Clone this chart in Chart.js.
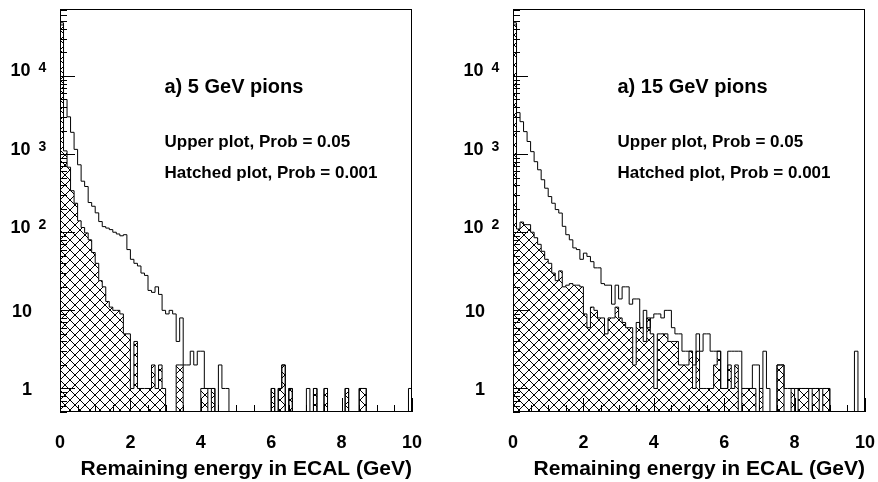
<!DOCTYPE html>
<html>
<head>
<meta charset="utf-8">
<script src="https://cdn.jsdelivr.net/npm/chart.js@4.4.1/dist/chart.umd.min.js"></script>
<style>
  html, body { margin: 0; padding: 0; background: #fff; }
  #wrap { position: relative; width: 878px; height: 482px; overflow: hidden; background: #fff; }
  #wrap canvas { position: absolute; top: 0; }
</style>
</head>
<body>
<div id="wrap">
  <canvas id="c5" width="439" height="482" style="left:0"></canvas>
  <canvas id="c15" width="439" height="482" style="left:439px"></canvas>
</div>
<script>
// Histogram binning: 100 bins of 0.1 GeV from 0 to 10 GeV
const xMin = 0, xMax = 10, binWidth = 0.1;
const binLow = Array.from({ length: 100 }, (_, i) => +(i * binWidth).toFixed(1));

// Axis ticks and labels
const xTickValues = [0, 2, 4, 6, 8, 10];
const xTickLabels = ['0', '2', '4', '6', '8', '10'];
const yDecades = [1, 10, 100, 1000, 10000];
const yTickLabels = [['1', ''], ['10', ''], ['10', '2'], ['10', '3'], ['10', '4']];
const xTitle = 'Remaining energy in ECAL (GeV)';

// 5 GeV pions: entries per bin
const pion5Upper = [
  48000, 5000, 3000, 1900, 1150, 730, 450, 385, 240, 215,
  177, 137, 118, 113, 108, 100, 95, 90, 93, 60,
  45, 40, 37, 30, 28, 18, 17, 20, 16, 10,
  9, 10, 9, 4, 8, 2, 2, 3, 2, 3,
  3, 1, 1, 1, 0, 2, 1, 1, 0, 0,
  0, 0, 0, 0, 0, 0, 0, 0, 0, 0,
  1, 0, 1, 2, 0, 1, 0, 0, 0, 0,
  1, 0, 1, 0, 0, 1, 0, 0, 0, 0,
  0, 1, 0, 0, 0, 1, 1, 0, 0, 0,
  0, 0, 0, 0, 0, 0, 0, 0, 0, 1
];
const pion5Hatched = [
  45000, 1100, 680, 340, 235, 140, 115, 98, 80, 55,
  40, 24, 20, 13, 11, 10, 10, 9, 5, 5,
  1, 4, 1, 1, 1, 1, 2, 1, 2, 1,
  0, 0, 0, 2, 2, 0, 0, 0, 0, 0,
  1, 1, 0, 1, 0, 0, 0, 0, 0, 0,
  0, 0, 0, 0, 0, 0, 0, 0, 0, 0,
  1, 0, 1, 2, 0, 1, 0, 0, 0, 0,
  0, 0, 1, 0, 0, 1, 0, 0, 0, 0,
  0, 1, 0, 0, 0, 1, 1, 0, 0, 0,
  0, 0, 0, 0, 0, 0, 0, 0, 0, 0
];

// 15 GeV pions: entries per bin
const pion15Upper = [
  48000, 3400, 2600, 1940, 1450, 1075, 800, 630, 470, 366,
  286, 235, 195, 176, 119, 93, 80, 63, 60, 45,
  54, 49, 42, 35, 35, 22, 21, 21, 12, 21,
  14, 20, 20, 12, 14, 14, 6, 10, 6, 8,
  9, 9, 8, 10, 10, 6, 5, 5, 3, 3,
  3, 2, 5, 3, 5, 5, 3, 3, 3, 1,
  1, 3, 3, 3, 3, 1, 1, 1, 2, 2,
  1, 3, 1, 0, 0, 2, 2, 1, 1, 1,
  1, 1, 1, 1, 1, 1, 1, 1, 1, 1,
  0, 0, 0, 0, 0, 0, 0, 3, 0, 0
];
const pion15Hatched = [
  45000, 110, 135, 125, 125, 100, 85, 70, 57, 45,
  40, 30, 24, 32, 20, 21, 22, 21, 21, 20,
  9, 6, 11, 10, 8, 8, 5, 8, 8, 11,
  8, 7, 6, 6, 2, 7, 6, 4, 8, 5,
  1, 5, 5, 5, 4, 4, 4, 2, 2, 2,
  3, 1, 3, 1, 1, 1, 1, 2, 3, 1,
  1, 2, 1, 2, 0, 1, 1, 1, 1, 0,
  1, 0, 0, 0, 0, 2, 2, 0, 0, 1,
  0, 1, 1, 1, 0, 1, 1, 0, 1, 1,
  0, 0, 0, 0, 0, 0, 0, 0, 0, 0
];

const FONT = '"Liberation Sans", Arial, Helvetica, sans-serif';
const yMin = 0.5, yMax = 72000;
// empty bins sit below the frame on the log axis and are clipped away
const EMPTY = 1e-3;

function histPoints(counts) {
  const pts = [{ x: xMin, y: EMPTY }];
  counts.forEach((c, i) => pts.push({ x: binLow[i], y: c > 0 ? c : EMPTY }));
  const last = counts[counts.length - 1];
  pts.push({ x: xMax, y: last > 0 ? last : EMPTY });
  pts.push({ x: xMax, y: EMPTY });
  return pts;
}

function crossHatch() {
  const s = 10;
  const c = document.createElement('canvas');
  c.width = s; c.height = s;
  const g = c.getContext('2d');
  g.strokeStyle = '#000';
  g.lineWidth = 1;
  g.beginPath();
  g.moveTo(-1, -1); g.lineTo(s + 1, s + 1);
  g.moveTo(s + 1, -1); g.lineTo(-1, s + 1);
  g.stroke();
  return g.createPattern(c, 'repeat');
}

// Frame, inward ticks, tick labels, axis title and the panel captions
function framePlugin(captions) {
  return {
    id: 'frame',
    afterDraw(chart) {
      const ctx = chart.ctx;
      const a = chart.chartArea;
      const xs = chart.scales.x, ys = chart.scales.y;
      ctx.save();
      ctx.strokeStyle = '#000';
      ctx.lineWidth = 1;
      ctx.strokeRect(Math.round(a.left) + 0.5, Math.round(a.top) + 0.5,
                     Math.round(a.right - a.left) - 1, Math.round(a.bottom - a.top) - 1);

      // y ticks (log): decades long, 2..9 short
      ctx.beginPath();
      for (let k = -1; k <= 5; k++) {
        for (let m = 1; m <= 9; m++) {
          const v = m * Math.pow(10, k);
          if (v < yMin || v > yMax) continue;
          const y = Math.round(ys.getPixelForValue(v)) + 0.5;
          const len = m === 1 ? 15 : 7;
          ctx.moveTo(a.left, y);
          ctx.lineTo(a.left + len, y);
        }
      }
      // x ticks: every 0.5 GeV, labelled ones long
      for (let v = xMin; v <= xMax + 1e-9; v += 0.5) {
        const x = Math.round(xs.getPixelForValue(v)) + 0.5;
        const len = Math.abs(v / 2 - Math.round(v / 2)) < 1e-9 ? 14 : 7;
        ctx.moveTo(x, a.bottom);
        ctx.lineTo(x, a.bottom - len);
      }
      ctx.stroke();

      ctx.fillStyle = '#000';
      // x tick labels
      ctx.font = 'bold 18px ' + FONT;
      ctx.textAlign = 'center';
      ctx.textBaseline = 'alphabetic';
      xTickValues.forEach((v, i) => {
        ctx.fillText(xTickLabels[i], xs.getPixelForValue(v), 448);
      });

      // y tick labels, powers of ten with a raised exponent
      yDecades.forEach((v, i) => {
        const y = ys.getPixelForValue(v);
        const [base, exp] = yTickLabels[i];
        ctx.font = 'bold 18px ' + FONT;
        ctx.textAlign = 'right';
        if (!exp) {
          ctx.fillText(base, a.left - 28, y + 6.3);
        } else {
          ctx.fillText(base, a.left - 29.5, y + 0.5);
          ctx.font = 'bold 14px ' + FONT;
          ctx.textAlign = 'left';
          ctx.fillText(exp, a.left - 21.5, y - 3.5);
        }
      });

      // axis title, right-aligned to the end of the axis
      ctx.font = 'bold 21px ' + FONT;
      ctx.textAlign = 'right';
      ctx.fillText(xTitle, a.right, 475);

      // captions
      ctx.textAlign = 'left';
      captions.forEach(c => {
        ctx.font = 'bold ' + c.size + 'px ' + FONT;
        ctx.fillText(c.text, a.left + 104.5, c.y);
      });
      ctx.restore();
    }
  };
}

function makePanel(id, upper, hatched, captions, padLeft, padRight) {
  return new Chart(document.getElementById(id), {
    type: 'line',
    data: {
      datasets: [
        {
          label: 'Hatched plot, Prob = 0.001',
          data: histPoints(hatched),
          stepped: 'before',
          borderColor: '#000',
          borderWidth: 1,
          backgroundColor: crossHatch(),
          fill: 'start',
          pointRadius: 0,
          order: 0
        },
        {
          label: 'Upper plot, Prob = 0.05',
          data: histPoints(upper),
          stepped: 'before',
          borderColor: '#000',
          borderWidth: 1,
          fill: false,
          pointRadius: 0,
          order: 1
        }
      ]
    },
    options: {
      responsive: false,
      animation: false,
      devicePixelRatio: 1,
      events: [],
      layout: { padding: { left: padLeft, right: padRight, top: 9, bottom: 70 } },
      plugins: { legend: { display: false }, tooltip: { enabled: false } },
      scales: {
        x: { type: 'linear', min: xMin, max: xMax, display: false },
        y: { type: 'logarithmic', min: yMin, max: yMax, display: false }
      }
    },
    plugins: [framePlugin(captions)]
  });
}

makePanel('c5', pion5Upper, pion5Hatched, [
  { text: 'a) 5 GeV pions', size: 20, y: 93 },
  { text: 'Upper plot, Prob = 0.05', size: 17, y: 147 },
  { text: 'Hatched plot, Prob = 0.001', size: 17, y: 178 }
], 60, 27);

makePanel('c15', pion15Upper, pion15Hatched, [
  { text: 'a) 15 GeV pions', size: 20, y: 93 },
  { text: 'Upper plot, Prob = 0.05', size: 17, y: 147 },
  { text: 'Hatched plot, Prob = 0.001', size: 17, y: 178 }
], 74, 13);
</script>
</body>
</html>
